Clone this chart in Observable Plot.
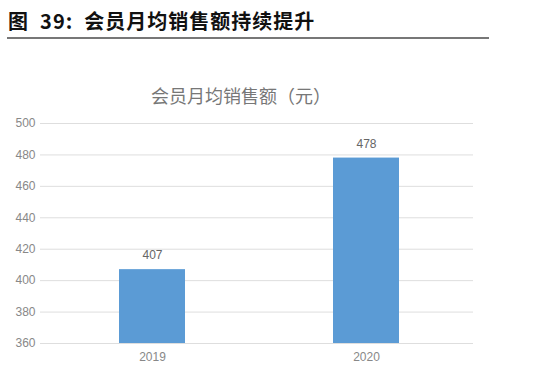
<!DOCTYPE html>
<html>
<head>
<meta charset="utf-8">
<script src="https://cdn.jsdelivr.net/npm/d3@7"></script>
<script src="https://cdn.jsdelivr.net/npm/@observablehq/plot@0.6"></script>
<style>
  html, body { margin: 0; padding: 0; background: #fff; }
  #wrap { position: relative; width: 550px; height: 385px; overflow: hidden; font-family: "Noto Sans CJK SC", "Noto Sans", sans-serif; }
  #header { position: absolute; left: 8px; top: 6px; font-size: 20px; font-weight: bold; color: #111; letter-spacing: 1px; white-space: nowrap; }
  #rule { position: absolute; left: 7px; top: 37px; width: 482px; height: 2px; background: #777; }
  #ctitle { position: absolute; left: 0; width: 482px; top: 82px; text-align: center; font-size: 18px; color: #777; }
  #chart { position: absolute; left: 0; top: 110px; }
</style>
</head>
<body>
<div id="wrap">
  <div id="header">图&nbsp; 39:&nbsp; 会员月均销售额持续提升</div>
  <div id="rule"></div>
  <div id="ctitle">会员月均销售额（元）</div>
  <div id="chart"></div>
</div>
<script>
const years = ["2019", "2020"];
const sales = [407, 478];
const yDomain = [360, 500];
const yTicks = [360, 380, 400, 420, 440, 460, 480, 500];

const data = years.map((y, i) => ({year: y, value: sales[i]}));

const chart = Plot.plot({
  width: 550,
  height: 275,
  marginTop: 13,
  marginBottom: 42,
  marginLeft: 44,
  marginRight: 77,
  style: {fontFamily: "Liberation Sans, Arial, sans-serif", fontSize: "12px", color: "#888", background: "#fff"},
  x: {domain: years, padding: 0, label: null, tickSize: 0, tickPadding: 9},
  y: {domain: yDomain, ticks: yTicks, label: null, tickSize: 0, tickPadding: 9, tickFormat: d3.format("d")},
  marks: [
    Plot.ruleY(yTicks, {stroke: "#dedede", strokeWidth: 1, insetLeft: -4}),
    Plot.barY(data, {x: "year", y1: () => yDomain[0], y2: "value", fill: "#5b9bd5", insetLeft: 74, insetRight: 74}),
    Plot.text(data, {x: "year", y: "value", text: d => String(d.value), dy: -14, fill: "#666", fontSize: 12})
  ]
});
document.getElementById("chart").appendChild(chart);
</script>
</body>
</html>
